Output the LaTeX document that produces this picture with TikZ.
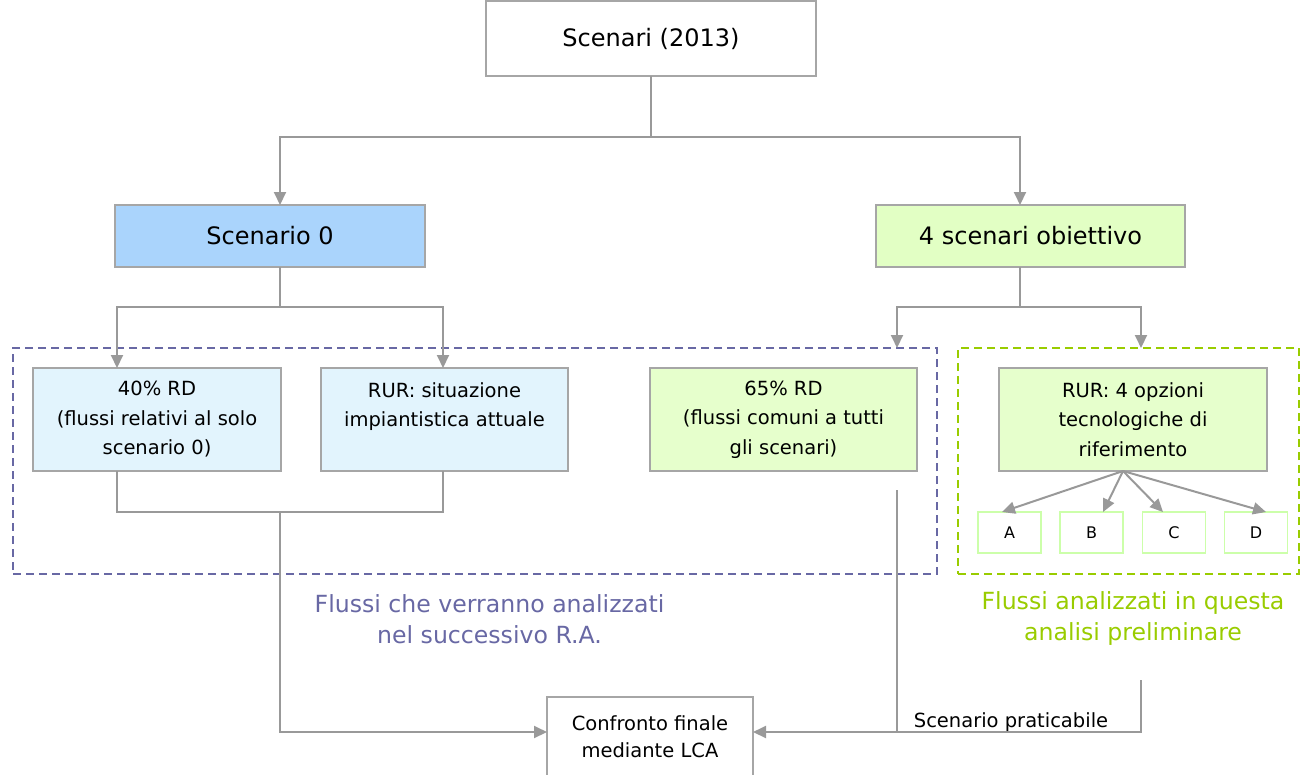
\documentclass[tikz,border=0pt]{standalone}
\usepackage{fontspec}
\setmainfont{DejaVu Sans}
\usetikzlibrary{arrows.meta,calc}
\definecolor{lnc}{HTML}{999999}
\definecolor{bdc}{HTML}{A6A6A6}
\definecolor{blueA}{HTML}{AAD4FC}
\definecolor{blueB}{HTML}{E2F4FD}
\definecolor{greenA}{HTML}{E2FFC4}
\definecolor{greenB}{HTML}{E6FFCC}
\definecolor{greenL}{HTML}{CCFFAA}
\definecolor{purp}{HTML}{6868A4}
\definecolor{grn}{HTML}{99CC00}
\begin{document}
\begin{tikzpicture}[x=1pt,y=-1pt,
  box/.style={draw=bdc,line width=1.6pt,inner sep=0pt,outer sep=0pt,align=center,text=black},
  big/.style={font=\fontsize{24}{29}\selectfont},
  small/.style={font=\fontsize{19.5}{29.5}\selectfont},
  ln/.style={draw=lnc,line width=2pt},
  arr/.style={ln,-{Triangle[length=13pt,width=12pt]}},
  grp/.style={draw,dashed,dash pattern=on 8pt off 5pt,line width=1.8pt,inner sep=0pt,outer sep=0pt},
  lbl/.style={align=center,font=\fontsize{23.6}{31}\selectfont}]
\useasboundingbox (0,0) rectangle (1300,774);

% group frames
\node[grp,draw=purp,minimum width=924pt,minimum height=226pt] (grpB) at (475,461) {};
\node[grp,draw=grn,minimum width=341pt,minimum height=226pt] (grpG) at (1128.5,461) {};

% boxes
\node[box,big,fill=white,minimum width=330pt,minimum height=75pt] (top) at (651,38.5) {Scenari (2013)};
\node[box,big,fill=blueA,minimum width=310pt,minimum height=62pt] (s0) at (270,236) {Scenario 0};
\node[box,big,fill=greenA,minimum width=309pt,minimum height=62pt] (s4) at (1030.5,236) {4 scenari obiettivo};

\node[box,small,fill=blueB,minimum width=248pt,minimum height=103pt] (rd40) at (157,419.5)
  {40\% RD\\(flussi relativi al solo\\scenario 0)};
\node[box,small,fill=blueB,minimum width=247pt,minimum height=103pt] (rur0) at (444.5,419.5)
  {RUR: situazione\\impiantistica attuale\\\mbox{}};
\node[box,small,fill=greenB,minimum width=267pt,minimum height=103pt] (rd65) at (783.5,419.5)
  {65\% RD\\(flussi comuni a tutti\\gli scenari)};
\node[box,small,fill=greenB,minimum width=268pt,minimum height=103pt] (rur4) at (1133,419.5)
  {RUR: 4 opzioni\\tecnologiche di\\riferimento};

\foreach \n/\x in {A/1009.5,B/1091.5,C/1174,D/1256}{
  \node[box,draw=greenL,fill=white,font=\fontsize{16}{19}\selectfont,minimum width=63pt,minimum height=41pt] (\n) at (\x,532.5) {\n};
}

\node[box,fill=white,font=\fontsize{19.5}{27}\selectfont,minimum width=206pt,minimum height=79pt] (conf) at (650,736.5)
  {Confronto finale\\mediante LCA};

% labels
\node[lbl,text=purp] (lblB) at (489.5,619) {Flussi che verranno analizzati\\nel successivo R.A.};
\node[lbl,text=grn] (lblG) at (1133,618) {Flussi analizzati in questa\\analisi preliminare};

% junction coordinates
\coordinate (j1) at (651,137);
\coordinate (j2) at (280,307);
\coordinate (j3) at (1020,307);
\coordinate (j4) at (280,512);
\coordinate (p65a) at (897,490);
\coordinate (p65b) at (897,732);
\coordinate (pGa) at (1141,680);
\coordinate (pGb) at (1141,732);

% connectors
\draw[ln] (top.south) -- (j1);
\draw[arr] (j1) -| ([xshift=10pt]s0.north);
\draw[arr] (j1) -| ([xshift=-10.5pt]s4.north);

\draw[ln] ([xshift=10pt]s0.south) -- (j2);
\draw[arr] (j2) -| ([xshift=-40pt]rd40.north);
\draw[arr] (j2) -| ([xshift=-1.5pt]rur0.north);

\draw[ln] ([xshift=-10.5pt]s4.south) -- (j3);
\draw[arr] (j3) -| (grpB.north -| p65a);
\draw[arr] (j3) -| (grpG.north -| pGa);

\draw[ln] ([xshift=-40pt]rd40.south) |- (j4) -| ([xshift=-1.5pt]rur0.south);
\draw[arr] (j4) |- ([yshift=4.5pt]conf.west);

\draw[ln] (p65a) -- (p65b);
\draw[arr] (pGa) -- (pGb) -- ([yshift=4.5pt]conf.east);
\node[font=\fontsize{19.5}{23}\selectfont,anchor=base] (prat) at (1011,727) {Scenario praticabile};

\foreach \n/\tx in {A/1002,B/1103,C/1163,D/1266}{
  \draw[arr] ([xshift=-10pt]rur4.south) -- (\tx,512);
}
\end{tikzpicture}
\end{document}
